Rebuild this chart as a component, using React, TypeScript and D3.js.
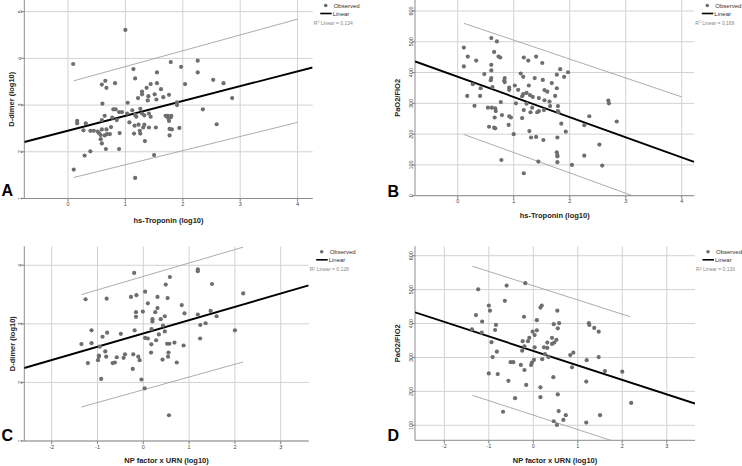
import React from 'react';
import * as d3 from 'd3';

// ---------- DATA ----------
const pointsA: [number, number][] = [
  [0.09,3.88],[1.14,3.77],[1.79,3.92],[2.26,3.95],[1.97,3.82],[2.26,3.70],[1.55,3.70],[1.17,3.57],[0.65,3.52],[0.59,3.44],
  [0.67,3.37],[0.82,3.47],[1.44,3.45],[1.55,3.47],[1.37,3.37],[1.29,3.29],[1.29,3.23],[1.22,3.15],[1.40,3.19],[1.51,3.23],
  [1.62,3.34],[1.66,3.17],[1.76,3.22],[1.54,3.12],[1.39,3.10],[2.04,3.45],[0.60,3.03],[1.04,3.05],[1.90,3.06],[1.90,3.00],
  [2.35,2.91],[0.79,2.91],[0.83,2.91],[0.89,2.85],[0.94,2.85],[1.03,2.82],[1.12,2.89],[1.26,2.92],[1.17,2.79],[1.19,2.75],
  [1.29,2.82],[1.33,2.78],[1.41,2.82],[1.44,2.75],[0.64,2.77],[0.77,2.73],[1.70,2.77],[1.74,2.77],[1.80,2.77],[1.74,2.73],
  [1.79,2.74],[1.76,2.66],[0.16,2.66],[0.16,2.61],[0.31,2.61],[0.59,2.68],[0.85,2.68],[1.07,2.63],[1.16,2.56],[1.23,2.58],
  [1.33,2.58],[1.31,2.52],[1.41,2.52],[1.53,2.52],[1.77,2.49],[1.81,2.48],[1.94,2.51],[0.27,2.46],[0.39,2.45],[0.45,2.45],
  [0.52,2.43],[0.59,2.48],[0.67,2.48],[0.75,2.53],[0.54,2.40],[0.57,2.36],[0.64,2.35],[0.68,2.38],[0.73,2.38],[0.90,2.40],
  [1.15,2.39],[1.25,2.45],[1.26,2.39],[1.77,2.35],[0.57,2.27],[1.34,2.23],[0.59,2.18],[0.89,2.06],[0.66,2.06],[0.39,2.01],
  [0.29,1.92],[1.50,1.93],[1.0,4.61],[0.1,1.62],[1.17,1.44],[2.53,3.54],[2.59,2.59],[2.71,3.47],[2.86,3.15]
];
const pointsB: [number, number][] = [
  [0.60,512],[0.70,501],[0.11,481],[0.65,467],[0.73,452],[0.76,449],[0.18,452],[0.33,439],[1.18,449],[1.26,439],
  [1.40,452],[1.51,431],[0.60,425],[0.11,420],[0.60,407],[1.83,411],[1.97,401],[1.77,393],[1.90,386],[0.475,395],
  [1.125,397],[1.17,386],[0.60,382],[0.59,375],[0.84,382],[0.83,373],[0.84,369],[1.375,382],[1.52,376],[1.68,366],
  [0.27,362],[0.41,349],[0.62,353],[0.92,351],[0.92,344],[1.02,358],[1.08,344],[1.27,358],[1.17,330],[1.15,323],
  [1.23,334],[1.29,327],[1.34,321],[1.55,343],[1.60,338],[1.77,349],[1.45,317],[1.55,310],[1.64,306],[1.74,324],
  [0.17,324],[0.40,324],[0.77,304],[1.04,300],[1.23,299],[0.30,292],[0.54,286],[0.61,286],[0.67,284],[0.68,275],
  [1.33,286],[1.45,275],[1.42,271],[1.54,278],[1.65,291],[1.79,291],[1.79,275],[1.80,271],[1.18,278],[1.30,271],
  [0.79,262],[0.92,258],[0.95,254],[0.66,254],[1.15,252],[2.35,258],[1.85,234],[2.26,229],[0.56,224],[0.65,221],
  [0.67,219],[0.91,230],[1.93,208],[1.28,210],[1.0,200],[1.31,189],[1.40,191],[1.53,181],[1.78,189],[1.77,141],
  [1.78,132],[1.78,128],[2.26,130],[1.78,109],[2.04,100],[1.44,111],[0.78,116],[1.18,73],[2.53,166],[2.58,98],
  [2.69,309],[2.70,300],[2.84,241]
];
const pointsC: [number, number][] = [
  [-0.20,3.87],[0.58,3.80],[1.19,3.93],[1.19,3.90],[1.50,3.68],[0.49,3.67],[-1.26,3.42],[-0.80,3.43],[-0.27,3.46],[-0.15,3.49],
  [0.04,3.55],[0.31,3.46],[0.53,3.44],[0.10,3.35],[0.31,3.27],[0.84,3.32],[0.90,3.18],[-0.16,3.20],[-0.16,3.12],[-0.01,3.21],
  [0.26,3.20],[0.20,3.08],[0.20,3.04],[0.38,3.08],[0.47,3.13],[0.43,2.97],[1.19,3.16],[1.47,3.22],[1.60,3.13],[1.245,2.98],
  [1.36,3.01],[-1.13,2.89],[-0.79,2.85],[-0.49,2.83],[-0.19,2.89],[0.18,2.91],[0.47,2.87],[0.34,2.82],[-0.89,2.78],[-1.35,2.655],
  [-1.13,2.67],[-0.95,2.61],[0.04,2.76],[0.10,2.75],[0.28,2.72],[0.175,2.65],[0.52,2.66],[0.57,2.66],[0.68,2.68],[0.88,2.63],
  [1.24,2.75],[-0.83,2.53],[-0.97,2.46],[-0.97,2.44],[-0.81,2.44],[-0.58,2.43],[-0.40,2.48],[-0.22,2.48],[-0.11,2.44],[-0.08,2.38],
  [-0.43,2.42],[-0.99,2.38],[-1.21,2.33],[-0.67,2.33],[-0.62,2.34],[0.17,2.51],[0.55,2.51],[0.54,2.44],[0.42,2.39],[0.73,2.34],
  [-0.23,2.23],[-0.92,2.06],[-0.04,2.05],[0.03,1.90],[0.56,1.44],[2.0,2.89],[2.18,3.52]
];
const pointsD: [number, number][] = [
  [-0.18,519],[-0.60,512],[-1.24,501],[-0.64,467],[-1.0,453],[-0.975,438],[0.19,453],[0.16,447],[0.54,438],[-1.29,425],
  [-0.21,420],[0.08,410],[-1.15,406],[-0.84,396],[-0.86,381],[0.58,401],[0.55,386],[0.46,398],[1.25,401],[1.26,396],
  [1.37,387],[1.47,376],[-1.38,383],[-1.16,373],[-0.015,376],[0.08,380],[-0.09,358],[-0.12,348],[-0.24,348],[0.03,366],
  [0.42,358],[0.52,352],[0.42,340],[0.47,344],[0.315,344],[-0.94,345],[0.24,330],[0.315,328],[0.03,330],[-0.25,320],
  [-0.82,317],[-0.2,333],[0.26,310],[0.83,307],[0.90,314],[-0.915,301],[0.34,301],[0.20,295],[0.015,293],[-0.03,285],
  [-0.05,278],[-0.51,286],[-0.45,286],[-0.28,278],[-0.20,263],[0.87,271],[1.20,292],[1.47,301],[1.61,260],[2.0,258],
  [-1.0,253],[-0.80,251],[-0.56,231],[0.45,242],[1.19,229],[-0.16,219],[0.16,212],[0.55,191],[-0.41,180],[0.16,183],
  [-0.68,140],[0.57,142],[0.73,130],[0.675,116],[0.46,112],[0.53,101],[1.19,108],[1.50,130],[2.2,166]
];

// regression lines and prediction interval lines (endpoints)
const fitA: [number, number][] = [[-0.76, 2.21], [4.26, 3.805]];
const upperA: [number, number][] = [[0.1, 3.52], [4.0, 4.84]];
const lowerA: [number, number][] = [[0.1, 1.45], [4.0, 2.63]];
const fitB: [number, number][] = [[-0.76, 436], [4.22, 110]];
const upperB: [number, number][] = [[0.11, 560], [4.0, 321]];
const lowerB: [number, number][] = [[0.11, 199], [4.0, -58]];
const fitC: [number, number][] = [[-2.6, 2.246], [3.61, 3.657]];
const upperC: [number, number][] = [[-1.35, 3.50], [2.18, 4.31]];
const lowerC: [number, number][] = [[-1.35, 1.58], [2.18, 2.35]];
const fitD: [number, number][] = [[-2.66, 433], [3.635, 164]];
const upperD: [number, number][] = [[-1.37, 569], [2.18, 420]];
const lowerD: [number, number][] = [[-1.37, 188.5], [2.18, 37]];

const xTicksTrop = [0, 1, 2, 3, 4];
const xTicksNP = [-2, -1, 0, 1, 2, 3];
const yTicksDimerA = [1, 2, 3, 4, 5];
const yTicksDimerC = [1, 2, 3, 4];
const yTicksPaoB = [0, 100, 200, 300, 400, 500, 600];
const yTicksPaoD = [100, 200, 300, 400, 500, 600];
const r2Labels = ['0,134', '0,169', '0,128', '0,130'];
const panelLetters = ['A', 'B', 'C', 'D'];
const xTitles = ['hs-Troponin (log10)', 'hs-Troponin (log10)', 'NP factor x URN (log10)', 'NP factor x URN (log10)'];
const yTitles = ['D-dimer (log10)', 'PaO2/FIO2', 'D-dimer (log10)', 'PaO2/FIO2'];
const legendLabels = ['Observed', 'Linear'];

// ---------- LAYOUT ----------
const layouts = [
  { x0: 24.3, x1: 312.7, y0: 0, y1: 198.5, xDom: [-0.761, 4.263], yDom: [1, 5.25], letterX: 1.5, letterY: 196, yTitleX: 11, xTitleY: 222.5 },
  { x0: 415, x1: 694.3, y0: 0, y1: 195.7, xDom: [-0.7625, 4.225], yDom: [0, 635.7], letterX: 387.5, letterY: 196.5, yTitleX: 397, xTitleY: 218 },
  { x0: 24.3, x1: 308.7, y0: 246.3, y1: 441, xDom: [-2.598, 3.611], yDom: [1, 4.324], letterX: 1.5, letterY: 441.3, yTitleX: 12, xTitleY: 462.5 },
  { x0: 415, x1: 695, y0: 246.3, y1: 440.3, xDom: [-2.66, 3.635], yDom: [55.8, 627.7], letterX: 387.5, letterY: 441.3, yTitleX: 397, xTitleY: 463 },
];

const panelData = [
  { pts: pointsA, fit: fitA, up: upperA, lo: lowerA, xt: xTicksTrop, yt: yTicksDimerA },
  { pts: pointsB, fit: fitB, up: upperB, lo: lowerB, xt: xTicksTrop, yt: yTicksPaoB },
  { pts: pointsC, fit: fitC, up: upperC, lo: lowerC, xt: xTicksNP, yt: yTicksDimerC },
  { pts: pointsD, fit: fitD, up: upperD, lo: lowerD, xt: xTicksNP, yt: yTicksPaoD },
];

const FONT = "'Liberation Sans', Arial, Helvetica, sans-serif";
const GRID = '#d2d2d2';
const AXIS = '#8c8c8c';
const DOT = '#6e6e6e';

function Panel({ i }: { i: number }) {
  const L = layouts[i];
  const D = panelData[i];
  const x = d3.scaleLinear().domain(L.xDom).range([L.x0, L.x1]);
  const y = d3.scaleLinear().domain(L.yDom).range([L.y1, L.y0]);
  const line = d3.line<[number, number]>().x(d => x(d[0])).y(d => y(d[1]));
  const clipId = `clip${i}`;
  const cx = (L.x0 + L.x1) / 2;
  const cy = (L.y0 + L.y1) / 2;
  const lgX = L.x1;
  const lgY = L.y0;
  return (
    <g>
      <defs>
        <clipPath id={clipId}>
          <rect x={L.x0} y={L.y0} width={L.x1 - L.x0} height={L.y1 - L.y0} />
        </clipPath>
      </defs>
      {/* grid */}
      {D.yt.map(t => (
        <line key={'gy' + t} x1={L.x0 - 3} x2={L.x1} y1={y(t)} y2={y(t)} stroke={GRID} strokeWidth={1} />
      ))}
      {D.xt.map(t => (
        <line key={'gx' + t} x1={x(t)} x2={x(t)} y1={L.y0} y2={L.y1 + 3} stroke={GRID} strokeWidth={1} />
      ))}
      {/* axes */}
      <line x1={L.x0} x2={L.x0} y1={L.y0} y2={L.y1} stroke={AXIS} strokeWidth={1} />
      <line x1={L.x0} x2={L.x1} y1={L.y1} y2={L.y1} stroke={AXIS} strokeWidth={1} />
      {D.yt.map(t => (
        <line key={'ty' + t} x1={L.x0 - 3} x2={L.x0} y1={y(t)} y2={y(t)} stroke={AXIS} strokeWidth={1} />
      ))}
      {D.xt.map(t => (
        <line key={'tx' + t} x1={x(t)} x2={x(t)} y1={L.y1} y2={L.y1 + 3} stroke={AXIS} strokeWidth={1} />
      ))}
      {/* tick labels */}
      {D.yt.map(t => (
        <text key={'ly' + t} transform={`translate(${L.x0 - 2.3},${y(t)}) rotate(-90)`} textAnchor="middle"
          fontSize={5.5} fill="#444" fontFamily={FONT}>{t}</text>
      ))}
      {D.xt.map(t => (
        <text key={'lx' + t} x={x(t)} y={L.y1 + 7.5} textAnchor="middle" fontSize={5.5} fill="#444" fontFamily={FONT}>{t}</text>
      ))}
      {/* bands and fit */}
      <g clipPath={`url(#${clipId})`}>
        <path d={line(D.up) || ''} fill="none" stroke="#a3a3a3" strokeWidth={0.9} />
        <path d={line(D.lo) || ''} fill="none" stroke="#a3a3a3" strokeWidth={0.9} />
        <path d={line(D.fit) || ''} fill="none" stroke="#000" strokeWidth={1.9} />
      </g>
      {/* points */}
      {D.pts.map((p, k) => (
        <circle key={k} cx={x(p[0])} cy={y(p[1])} r={2.1} fill={DOT} />
      ))}
      {/* titles */}
      <text x={cx} y={L.xTitleY} textAnchor="middle" fontSize={7.5} fontWeight="bold" fill="#222" fontFamily={FONT}>{xTitles[i]}</text>
      <text transform={`translate(${L.yTitleX + 2.6},${cy}) rotate(-90)`} textAnchor="middle" fontSize={7.5} fontWeight="bold" fill="#222" fontFamily={FONT}>{yTitles[i]}</text>
      <text x={L.letterX} y={L.letterY} fontSize={16} fontWeight="bold" fill="#000" fontFamily={FONT}>{panelLetters[i]}</text>
      {/* legend */}
      <circle cx={lgX + 13} cy={lgY + 5.5} r={1.8} fill={DOT} />
      <text x={lgX + 21} y={lgY + 7.5} fontSize={6} fill="#333" fontFamily={FONT}>{legendLabels[0]}</text>
      <line x1={lgX + 7.5} x2={lgX + 19} y1={lgY + 13.5} y2={lgY + 13.5} stroke="#000" strokeWidth={1.6} />
      <text x={lgX + 20} y={lgY + 15.5} fontSize={6} fill="#333" fontFamily={FONT}>{legendLabels[1]}</text>
      <text x={lgX + 1} y={lgY + 25} fontSize={5} fill="#888" fontFamily={FONT}>
        R<tspan dy={-1.8} fontSize={3.5}>2</tspan><tspan dy={1.8}> Linear = {r2Labels[i]}</tspan>
      </text>
    </g>
  );
}

export default function App() {
  return (
    <svg width={742} height={466} style={{ position: 'absolute', left: 0, top: 0, background: '#fff' }}>
      <rect width={742} height={466} fill="#fff" />
      {[0, 1, 2, 3].map(i => <Panel key={i} i={i} />)}
    </svg>
  );
}
